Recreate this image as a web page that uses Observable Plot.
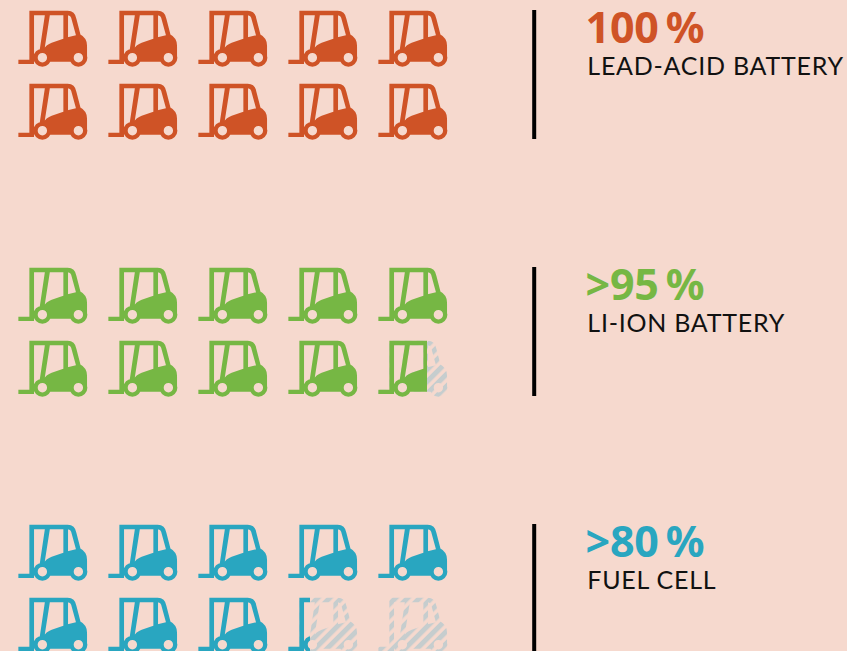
<!doctype html>
<html>
<head>
<meta charset="utf-8">
<script src="https://cdn.jsdelivr.net/npm/d3@7"></script>
<script src="https://cdn.jsdelivr.net/npm/@observablehq/plot@0.6"></script>
<style>
  html, body { margin: 0; padding: 0; background: #f6d9ce; overflow: hidden; }
  svg { display: block; }
  .share-label text { letter-spacing: -0.2px; }
  .tech-label text { letter-spacing: 0.75px; }
</style>
</head>
<body>
<div id="chart"></div>
<script>
// Chart values
const technologies = ["LEAD-ACID BATTERY", "LI-ION BATTERY", "FUEL CELL"];
const shareLabels = ["100\u2009%", ">95\u2009%", ">80\u2009%"];
const filledUnits = [10, 9.7, 8.32];
const colors = ["#cf5326", "#76b744", "#29a6c0"];
const unitsPerRow = 5;
const rowsPerGroup = 2;
const hatchColor = "#c6cdce";

// Icon outline, drawn as a custom Plot symbol (units: 1/3 px, re-centred)
const forklift = {
  draw(c) {
    const X = v => (v - 127) / 3, Y = v => (v - 113.5) / 3, R = v => v / 3;
    const poly = pts => { pts.forEach(([x, y], i) => i ? c.lineTo(X(x), Y(y)) : c.moveTo(X(x), Y(y))); c.closePath(); };
    const q = (a, b, x, y) => c.quadraticCurveTo(X(a), Y(b), X(x), Y(y));
    // fork
    poly([[24, 177], [70, 177], [70, 190], [24, 190]]);
    // mast
    poly([[57, 43], [71, 43], [71, 190], [57, 190]]);
    // inclined pillar
    poly([[104, 40], [119, 40], [101, 155], [87, 155]]);
    // rear post
    poly([[159, 40], [173, 40], [173, 118], [159, 118]]);
    // roof and rear pillar
    c.moveTo(X(57), Y(30));
    c.lineTo(X(172), Y(30));
    q(194, 30, 198, 54);
    c.lineTo(X(212), Y(108));
    c.lineTo(X(198), Y(108));
    c.lineTo(X(184), Y(57));
    q(182, 44, 170, 44);
    c.lineTo(X(57), Y(44));
    c.closePath();
    // body
    c.moveTo(X(96), Y(150));
    q(108, 131, 124, 126);
    c.lineTo(X(172), Y(110));
    c.lineTo(X(209), Y(101));
    q(230, 112, 230, 135);
    c.lineTo(X(230), Y(172));
    q(230, 183, 220, 183);
    c.arc(X(204), Y(171), R(21), 0.6, Math.PI - 0.6, true);
    c.lineTo(X(113), Y(183));
    c.arc(X(96), Y(171), R(21), 0.6, -Math.PI / 2, true);
    c.closePath();
    // wheels
    for (const cx of [96, 204]) {
      c.moveTo(X(cx) + R(27), Y(171));
      c.arc(X(cx), Y(171), R(27), 0, 2 * Math.PI);
      c.closePath();
      c.moveTo(X(cx) + R(14), Y(171));
      c.arc(X(cx), Y(171), R(14), 0, 2 * Math.PI, true);
      c.closePath();
    }
  }
};

// Tables built from the arrays
const rowStep = 73 / 257;
const units = technologies.flatMap((tech, s) =>
  d3.range(unitsPerRow * rowsPerGroup).map(i => {
    const fraction = Math.max(0, Math.min(1, filledUnits[s] - i));
    return {
      s,
      col: i % unitsPerRow,
      y: s + Math.floor(i / unitsPerRow) * rowStep,
      fraction,
      fill: fraction === 1 ? colors[s] : `url(#partial-${s})`
    };
  })
);
const groups = technologies.map((name, s) => ({ s, name, share: shareLabels[s], color: colors[s] }));

const plot = Plot.plot({
  width: 847,
  height: 651,
  margin: 0,
  style: { background: "#f6d9ce", overflow: "hidden" },
  x: { domain: [0, 4], range: [52.2, 412.2], axis: null },
  y: { domain: [0, 2], range: [38, 552], axis: null },
  color: { type: "identity" },
  marks: [
    Plot.dot(units.filter(d => d.fraction < 1), { x: "col", y: "y", symbol: forklift, fill: "url(#hatch)", stroke: "none" }),
    Plot.dot(units.filter(d => d.fraction > 0), { x: "col", y: "y", symbol: forklift, fill: "fill", stroke: "none" }),
    Plot.ruleX(groups, {
      x: () => 5.35,
      y1: d => d.s - 28 / 257,
      y2: d => d.s + 101 / 257,
      stroke: "#000",
      strokeWidth: 4
    }),
    Plot.text(groups, {
      x: () => 5.92,
      y: d => d.s - 9 / 257,
      text: "share",
      fill: "color",
      textAnchor: "start",
      fontFamily: "Noto Sans",
      fontWeight: 700,
      fontSize: 43,
      className: "share-label"
    }),
    Plot.text(groups, {
      x: () => 5.94,
      y: d => d.s + 28 / 257,
      text: "name",
      fill: "#111",
      textAnchor: "start",
      fontFamily: "Lato",
      fontSize: 25,
      className: "tech-label"
    })
  ]
});

// Hatch pattern and hard-stop partial fills
const defs = d3.select(plot).insert("defs", ":first-child");
const hatch = defs.append("pattern")
  .attr("id", "hatch")
  .attr("patternUnits", "userSpaceOnUse")
  .attr("width", 8.5).attr("height", 8.5)
  .attr("patternTransform", "rotate(-45)");
hatch.append("rect").attr("width", 8.5).attr("height", 5).attr("fill", hatchColor);
technologies.forEach((_, s) => {
  const fraction = filledUnits[s] % 1;
  const g = defs.append("linearGradient")
    .attr("id", `partial-${s}`)
    .attr("x1", 0).attr("x2", 1).attr("y1", 0).attr("y2", 0);
  g.append("stop").attr("offset", fraction).attr("stop-color", colors[s]);
  g.append("stop").attr("offset", fraction).attr("stop-color", colors[s]).attr("stop-opacity", 0);
});

document.getElementById("chart").append(plot);
</script>
</body>
</html>
